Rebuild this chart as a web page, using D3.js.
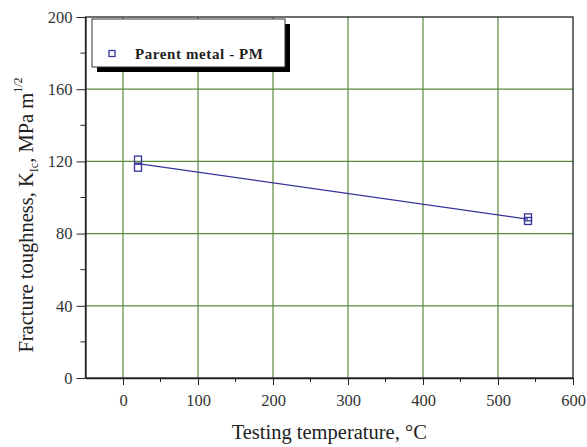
<!DOCTYPE html>
<html>
<head>
<meta charset="utf-8">
<script src="https://cdn.jsdelivr.net/npm/d3@7"></script>
<style>
  body { margin: 0; background: #fff; }
  svg { display: block; font-family: "Liberation Serif", "Times New Roman", serif; }
  svg text { font-family: "Liberation Serif", "Times New Roman", serif; }
</style>
</head>
<body>
<div id="chart"></div>
<script>
// --- Data ---
const seriesName = "Parent metal - PM";
const tempC = [20, 20, 540, 540];        // testing temperature, °C
const kIc = [121, 116.5, 89, 87];        // fracture toughness, MPa m^1/2
const xTicks = [0, 100, 200, 300, 400, 500, 600];
const xMinor = [-50, 50, 150, 250, 350, 450, 550];
const yTicks = [0, 40, 80, 120, 160, 200];
const yMinor = [20, 60, 100, 140, 180];

// --- Layout ---
const W = 587, H = 447;
const PLOT = { left: 85.5, right: 573, top: 17, bottom: 378 };
const GRID_COLOR = "#5b8a3c";
const DATA_COLOR = "#34349c";

const svg = d3.select("#chart").append("svg")
    .attr("width", W)
    .attr("height", H)
    .attr("viewBox", [0, 0, W, H]);

const x = d3.scaleLinear().domain([-50, 600]).range([PLOT.left, PLOT.right]);
const y = d3.scaleLinear().domain([0, 200]).range([PLOT.bottom, PLOT.top]);

// grid (major ticks only, not on the frame)
const grid = svg.append("g").attr("stroke", GRID_COLOR).attr("stroke-width", 1.2);
grid.selectAll("line.gx")
    .data(xTicks.filter(d => d < 600))
    .join("line")
    .attr("x1", d => x(d)).attr("x2", d => x(d))
    .attr("y1", PLOT.top).attr("y2", PLOT.bottom);
grid.selectAll("line.gy")
    .data(yTicks.filter(d => d > 0 && d < 200))
    .join("line")
    .attr("y1", d => y(d)).attr("y2", d => y(d))
    .attr("x1", PLOT.left).attr("x2", PLOT.right);

// frame (top/right)
svg.append("rect")
    .attr("x", PLOT.left).attr("y", PLOT.top)
    .attr("width", PLOT.right - PLOT.left).attr("height", PLOT.bottom - PLOT.top)
    .attr("fill", "none").attr("stroke", "#222").attr("stroke-width", 1.3);

// axes
const xAxis = svg.append("g")
    .attr("transform", `translate(0,${PLOT.bottom})`)
    .call(d3.axisBottom(x).tickValues(xTicks).tickSize(7).tickPadding(9).tickSizeOuter(0));
xAxis.append("g").selectAll("line")
    .data(xMinor.filter(d => d > -50))
    .join("line")
    .attr("x1", d => x(d)).attr("x2", d => x(d))
    .attr("y1", 0).attr("y2", 4)
    .attr("stroke", "#222");

const yAxis = svg.append("g")
    .attr("transform", `translate(${PLOT.left},0)`)
    .call(d3.axisLeft(y).tickValues(yTicks).tickSize(9).tickPadding(4).tickSizeOuter(0));
yAxis.append("g").selectAll("line")
    .data(yMinor)
    .join("line")
    .attr("y1", d => y(d)).attr("y2", d => y(d))
    .attr("x1", 0).attr("x2", -5)
    .attr("stroke", "#222");

[xAxis, yAxis].forEach(a => a
    .attr("font-family", "Liberation Serif, Times New Roman, serif")
    .attr("font-size", 16.5));
svg.selectAll(".domain").attr("stroke", "#222").attr("stroke-width", 1.3);
svg.selectAll(".tick line").attr("stroke", "#222");
svg.selectAll(".tick text").attr("fill", "#333");

// linear fit through the measured points
const n = tempC.length;
const mx = d3.mean(tempC), my = d3.mean(kIc);
const slope = d3.sum(tempC, (t, i) => (t - mx) * (kIc[i] - my)) / d3.sum(tempC, t => (t - mx) ** 2);
const icpt = my - slope * mx;
const fitX = d3.extent(tempC);
svg.append("path")
    .datum(fitX)
    .attr("fill", "none")
    .attr("stroke", DATA_COLOR)
    .attr("stroke-width", 1.2)
    .attr("d", d3.line().x(d => x(d)).y(d => y(icpt + slope * d)));

// markers
const SQ = 7;
svg.append("g").selectAll("rect")
    .data(d3.range(n))
    .join("rect")
    .attr("x", i => x(tempC[i]) - SQ / 2)
    .attr("y", i => y(kIc[i]) - SQ / 2)
    .attr("width", SQ).attr("height", SQ)
    .attr("fill", "none")
    .attr("stroke", DATA_COLOR)
    .attr("stroke-width", 1.3);

// legend with drop shadow
const leg = svg.append("g").attr("transform", "translate(92,19)");
leg.append("rect").attr("x", 5).attr("y", 5).attr("width", 193).attr("height", 48).attr("fill", "#000");
leg.append("rect").attr("x", 0).attr("y", 0).attr("width", 193).attr("height", 48)
    .attr("fill", "#fff").attr("stroke", "#333").attr("stroke-width", 1);
leg.append("rect").attr("x", 17).attr("y", 31.5).attr("width", 6).attr("height", 6)
    .attr("fill", "none").attr("stroke", DATA_COLOR).attr("stroke-width", 1.3);
leg.append("text")
    .attr("x", 43).attr("y", 40)
    .attr("font-size", 15).attr("font-weight", "bold")
    .attr("textLength", 128)
    .attr("lengthAdjust", "spacing")
    .attr("fill", "#222")
    .text(seriesName);

// axis titles
svg.append("text")
    .attr("x", (PLOT.left + PLOT.right) / 2).attr("y", 439)
    .attr("text-anchor", "middle")
    .attr("font-size", 20.5).attr("fill", "#222")
    .text("Testing temperature,  \u00B0C");

const yt = svg.append("text")
    .attr("transform", "translate(33,215) rotate(-90)")
    .attr("text-anchor", "middle")
    .attr("font-size", 20.5).attr("fill", "#222");
yt.append("tspan").text("Fracture toughness, K");
yt.append("tspan").attr("font-size", 12).attr("dy", 5).text("Ic");
yt.append("tspan").attr("dy", -5).text(", MPa m");
yt.append("tspan").attr("font-size", 12).attr("dy", -11).text("1/2");
</script>
</body>
</html>
